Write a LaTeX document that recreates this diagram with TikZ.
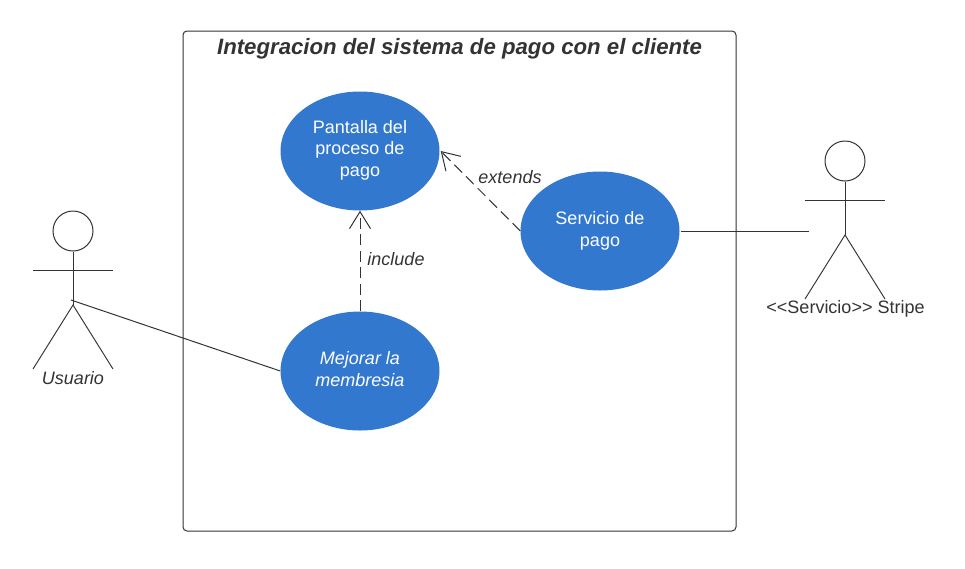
\documentclass[tikz,border=0pt]{standalone}
\usepackage{fontspec}
\setmainfont{Liberation Sans}
\usetikzlibrary{arrows.meta,shapes.geometric}
\definecolor{ink}{HTML}{333333}
\definecolor{usecaseblue}{HTML}{3278CF}
\tikzset{
  x=1pt,y=-1pt,
  usecase/.style={ellipse,fill=usecaseblue,minimum width=159pt,minimum height=119pt,inner sep=0pt,text=white,align=center,font=\fontsize{18}{21.6}\selectfont},
  actorhead/.style={circle,draw=ink,line width=1pt,minimum size=40pt,inner sep=0pt},
  limb/.style={draw=ink,line width=0.95pt},
  link/.style={draw=ink,line width=1pt},
  deplink/.style={draw=ink,line width=1pt,dash pattern=on 11pt off 5.5pt,-{Straight Barb[length=17pt,width=21pt,line width=1pt]}},
  lbl/.style={text=ink,font=\fontsize{18}{21}\selectfont,inner sep=0pt},
}
\begin{document}
\begin{tikzpicture}
\useasboundingbox (0,0) rectangle (965,568);
\node[draw=ink,line width=1pt,rounded corners=4pt,minimum width=553pt,minimum height=500pt,inner sep=0pt] (frame) at (459.5,281) {};
\node[lbl,font=\fontsize{22.2}{26}\selectfont\bfseries\itshape] (title) at (459.5,49) {Integracion del sistema de pago con el cliente};
\node[usecase] (pantalla) at (360,151) {};
\node[text=white,align=center,inner sep=0pt,font=\fontsize{18}{21.6}\selectfont] (pantallatext) at (360,150.3) {Pantalla del\\proceso de\\pago};
\node[usecase] (servicio) at (600,231) {Servicio de\\pago};
\node[usecase] (mejorar) at (360,371) {};
\node[text=white,align=center,inner sep=0pt,font=\fontsize{18}{21.6}\selectfont\itshape] (mejorartext) at (360,369) {Mejorar la\\membresia};
% Usuario actor
\node[actorhead] (uhead) at (73,231) {};
\coordinate (uhip) at (73,305);
\coordinate (ula) at (33,270);
\coordinate (ura) at (113,270);
\coordinate (ull) at (33,369);
\coordinate (url) at (113,369);
\coordinate (uanchor) at (71,300);
\draw[limb] (uhead.south) -- (uhip);
\draw[limb] (ula) -- (ura);
\draw[limb] (ull) -- (uhip) -- (url);
\node[lbl,font=\fontsize{18}{21}\selectfont\itshape] (ulabel) at (73,378.5) {Usuario};
% Stripe actor
\node[actorhead] (shead) at (845,161) {};
\coordinate (ship) at (845,235);
\coordinate (sla) at (805,200);
\coordinate (sra) at (885,200);
\coordinate (sll) at (805,299);
\coordinate (srl) at (885,299);
\coordinate (sanchor) at (809,231);
\draw[limb] (shead.south) -- (ship);
\draw[limb] (sla) -- (sra);
\draw[limb] (sll) -- (ship) -- (srl);
\node[lbl] (slabel) at (845.5,309) {<{}<Servicio>{}> Stripe};
% Connectors
\draw[link] (uanchor) -- (mejorar.west);
\draw[link] (servicio.east) ++(1,0) -- (sanchor);
\draw[deplink] (mejorar.north) -- (pantalla.south);
\draw[deplink] (servicio.west) -- ([xshift=1pt]pantalla.east);
\node[lbl,font=\fontsize{18}{21}\selectfont\itshape] (inc) at (396,259) {include};
\node[lbl,font=\fontsize{18}{21}\selectfont\itshape] (ext) at (510,177) {extends};
\end{tikzpicture}
\end{document}
